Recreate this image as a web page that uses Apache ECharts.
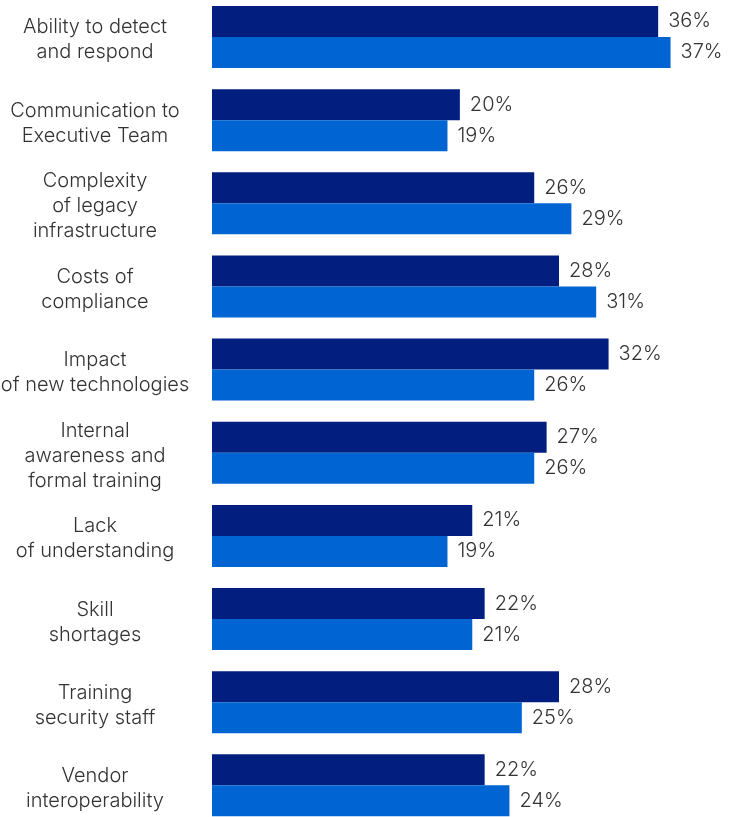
<!DOCTYPE html>
<html>
<head>
<meta charset="utf-8">
<script src="https://cdn.jsdelivr.net/npm/echarts@6/dist/echarts.min.js"></script>
<style>
  html, body { margin: 0; padding: 0; background: #fff; }
  #chart { width: 735px; height: 817px; }
</style>
</head>
<body>
<div id="chart"></div>
<script>
// Challenge categories, top to bottom
const categories = [
  'Ability to detect\nand respond',
  'Communication to\nExecutive Team',
  'Complexity\nof legacy\ninfrastructure',
  'Costs of\ncompliance',
  'Impact\nof new technologies',
  'Internal\nawareness and\nformal training',
  'Lack\nof understanding',
  'Skill\nshortages',
  'Training\nsecurity staff',
  'Vendor\ninteroperability'
];

// Percent values for the two series (dark bar first, light bar second)
const seriesA = [36, 20, 26, 28, 32, 27, 21, 22, 28, 22];
const seriesB = [37, 19, 29, 31, 26, 26, 19, 21, 25, 24];

const FONT = 'Inter, Roboto, "Noto Sans", sans-serif';
const TEXT = '#333333';

const valueLabel = {
  show: true,
  position: 'right',
  distance: 10,
  formatter: p => p.value + '%',
  fontFamily: FONT,
  fontWeight: 300,
  fontSize: 20,
  color: TEXT
};

const chart = echarts.init(document.getElementById('chart'), null, { renderer: 'canvas' });

chart.setOption({
  animation: false,
  backgroundColor: '#ffffff',
  grid: {
    left: 212, top: -4.6, width: 523, height: 831.5,
    outerBoundsMode: 'none', containLabel: false
  },
  xAxis: {
    type: 'value',
    min: 0,
    max: 42.2,
    show: false
  },
  yAxis: {
    type: 'category',
    data: categories,
    inverse: true,
    axisLine: { show: false },
    axisTick: { show: false },
    splitLine: { show: false },
    axisLabel: {
      align: 'center',
      margin: 117,
      // a thin spacer line above each label nudges the text block down a little
      formatter: v => '{s|}\n' + v,
      rich: { s: { height: 6, lineHeight: 6, fontSize: 1 } },
      fontFamily: FONT,
      fontWeight: 300,
      fontSize: 20,
      lineHeight: 25,
      color: TEXT
    }
  },
  series: [
    {
      type: 'bar',
      data: seriesA,
      barWidth: 31,
      barGap: '0%',
      itemStyle: { color: '#021f80' },
      label: valueLabel
    },
    {
      type: 'bar',
      data: seriesB,
      barWidth: 31,
      barGap: '0%',
      itemStyle: { color: '#0064d2' },
      label: valueLabel
    }
  ]
});
</script>
</body>
</html>
